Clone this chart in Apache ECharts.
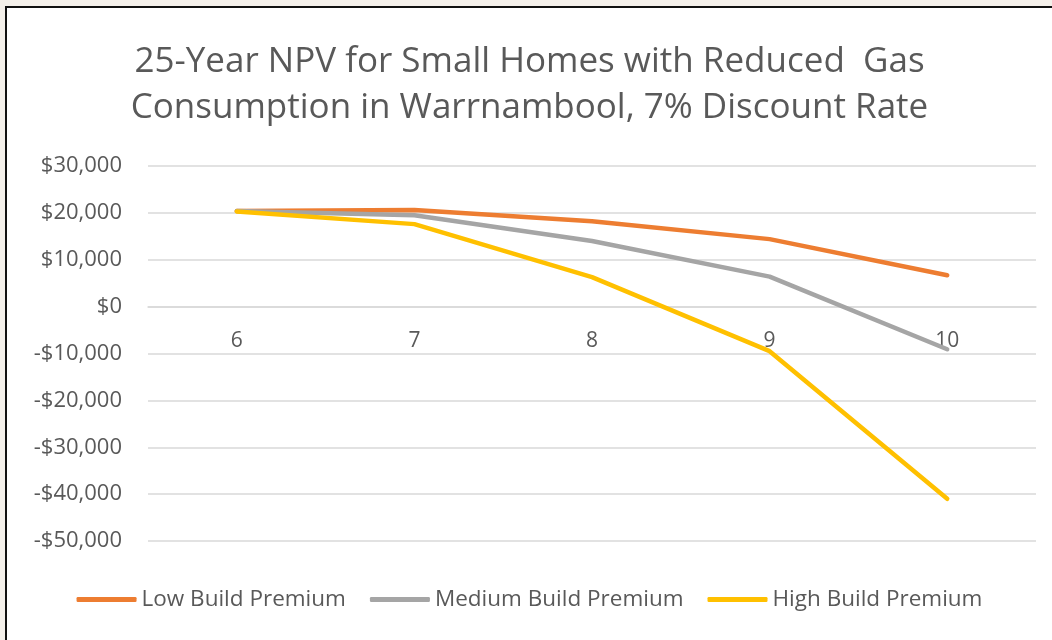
<!DOCTYPE html>
<html>
<head>
<meta charset="utf-8">
<script src="https://cdn.jsdelivr.net/npm/echarts@6/dist/echarts.min.js"></script>
<style>
html,body{margin:0;padding:0;background:#f4f0ea;width:1052px;height:640px;overflow:hidden;}
#frame{position:absolute;left:5px;top:6px;width:1047px;height:634px;background:#fff;border-top:2px solid #111;border-left:2px solid #111;box-sizing:border-box;}
#chart{position:absolute;left:0;top:0;width:1045px;height:632px;}
</style>
</head>
<body>
<div id="frame"><div id="chart"></div></div>
<script>
const categories = ['6', '7', '8', '9', '10'];
const lowPremium = [20400, 20600, 18200, 14400, 6700];
const mediumPremium = [20400, 19500, 14000, 6400, -9100];
const highPremium = [20300, 17600, 6300, -9500, -41000];
const seriesNames = ['Low Build Premium', 'Medium Build Premium', 'High Build Premium'];
const titleText = '25-Year NPV for Small Homes with Reduced  Gas\nConsumption in Warrnambool, 7% Discount Rate';

const chart = echarts.init(document.getElementById('chart'));
const font = '"Open Sans", sans-serif';
const fmt = v => (v < 0 ? '-$' : '$') + Math.abs(v).toLocaleString('en-US');
const gridTop = 158, gridH = 375, yMin = -50000, yMax = 30000;
const zeroOffset = -gridH * (0 - yMin) / (yMax - yMin);
chart.setOption({
  animation: false,
  title: {
    text: titleText,
    left: 'center', top: 26,
    textStyle: { fontFamily: font, fontSize: 35, fontWeight: 'normal', color: '#595959', lineHeight: 46 }
  },
  grid: { left: 141, right: 16, top: gridTop, height: gridH, containLabel: false },
  legend: {
    top: 575, left: 'center',
    itemWidth: 60, itemHeight: 5, itemGap: 24,
    icon: 'roundRect',
    textStyle: { fontFamily: font, fontSize: 22.5, color: '#595959', padding: [0, 0, 0, 0] },
    data: seriesNames
  },
  xAxis: {
    type: 'category', data: categories, boundaryGap: true,
    position: 'bottom', offset: zeroOffset,
    axisLine: { onZero: false, lineStyle: { color: '#d9d9d9', width: 1.5 } },
    axisTick: { show: false },
    axisLabel: { fontFamily: font, fontSize: 21, color: '#595959', margin: 24 }
  },
  yAxis: {
    type: 'value', min: yMin, max: yMax, interval: 10000,
    axisLine: { show: false }, axisTick: { show: false },
    splitLine: { lineStyle: { color: '#d9d9d9', width: 1.5 } },
    axisLabel: { fontFamily: font, fontSize: 22, color: '#595959', margin: 26, formatter: fmt }
  },
  series: [
    { name: seriesNames[0], type: 'line', data: lowPremium, symbol: 'none', lineStyle: { width: 4.5, color: '#ED7D31', cap: 'round', join: 'round' }, itemStyle: { color: '#ED7D31' }, z: 3 },
    { name: seriesNames[1], type: 'line', data: mediumPremium, symbol: 'none', lineStyle: { width: 4.5, color: '#A5A5A5', cap: 'round', join: 'round' }, itemStyle: { color: '#A5A5A5' }, z: 4 },
    { name: seriesNames[2], type: 'line', data: highPremium, symbol: 'none', lineStyle: { width: 4.5, color: '#FFC000', cap: 'round', join: 'round' }, itemStyle: { color: '#FFC000' }, z: 5 }
  ]
});
</script>
</body>
</html>
